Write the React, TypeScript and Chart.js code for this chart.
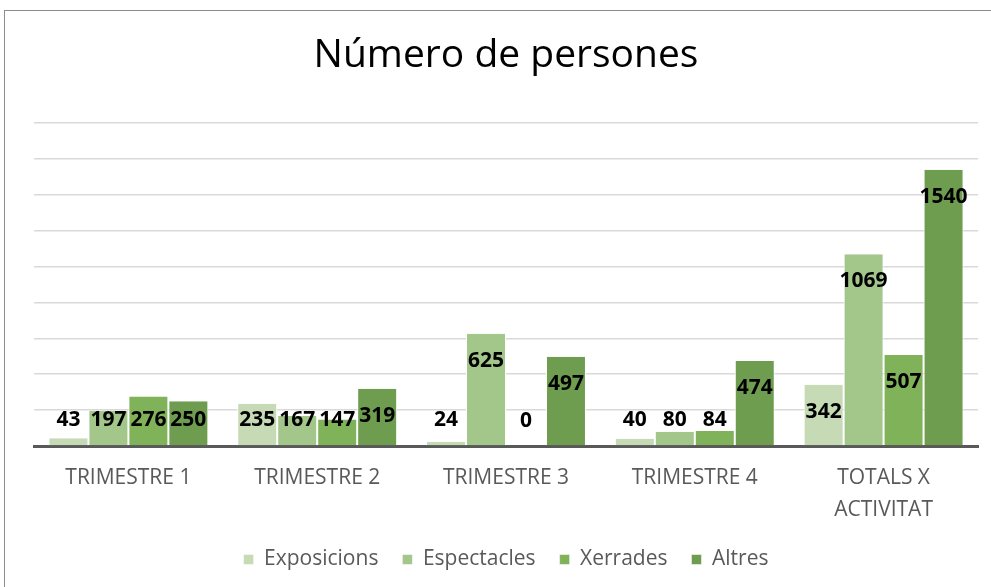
import React, { useEffect, useRef } from "react";
import { Chart, registerables } from "chart.js";

Chart.register(...registerables);

const categories: (string | string[])[] = [
  "TRIMESTRE 1",
  "TRIMESTRE 2",
  "TRIMESTRE 3",
  "TRIMESTRE 4",
  ["TOTALS X", "ACTIVITAT"],
];
const exposicions = [43, 235, 24, 40, 342];
const espectacles = [197, 167, 625, 80, 1069];
const xerrades = [276, 147, 0, 84, 507];
const altres = [250, 319, 497, 474, 1540];
const seriesNames = ["Exposicions", "Espectacles", "Xerrades", "Altres"];
const seriesColors = ["#c5dab5", "#a3c68b", "#80b25a", "#6e9d4f"];
const titleText = "Número de persones";

const labelPlugin = {
  id: "barValueLabels",
  afterDatasetsDraw(chart: any) {
    const ctx = chart.ctx;
    ctx.save();
    ctx.font = "bold 21px 'Open Sans'";
    ctx.fillStyle = "#000000";
    ctx.textAlign = "center";
    ctx.textBaseline = "middle";
    chart.data.datasets.forEach((ds: any, di: number) => {
      const meta = chart.getDatasetMeta(di);
      meta.data.forEach((el: any, i: number) => {
        const y = Math.min(el.y + 27, el.base - 25);
        ctx.fillText(String(ds.data[i]), el.x, y);
      });
    });
    ctx.restore();
  },
};

export default function App() {
  const ref = useRef<HTMLCanvasElement | null>(null);
  useEffect(() => {
    if (!ref.current) return;
    const data = [exposicions, espectacles, xerrades, altres];
    const chart = new Chart(ref.current, {
      type: "bar",
      data: {
        labels: categories,
        datasets: data.map((d, i) => ({
          label: seriesNames[i],
          data: d,
          backgroundColor: seriesColors[i],
          borderColor: "#ffffff",
          borderWidth: { left: 1, right: 1, top: 0, bottom: 0 },
          borderSkipped: false,
          categoryPercentage: 0.847,
          barPercentage: 1,
        })),
      },
      options: {
        animation: false,
        responsive: false,
        maintainAspectRatio: false,
        layout: { padding: { left: 34, right: 13, top: 0, bottom: 7 } },
        plugins: {
          title: {
            display: true,
            text: titleText,
            color: "#000000",
            font: { family: "'Open Sans'", size: 39, weight: "normal", lineHeight: 1.2 },
            padding: { top: 32, bottom: 44.2 },
          },
          legend: {
            display: true,
            position: "bottom",
            labels: {
              color: "#595959",
              font: { family: "'Open Sans'", size: 21 },
              boxWidth: 10,
              boxHeight: 10,
              padding: 24,
            },
          },
          tooltip: { enabled: false },
        },
        scales: {
          x: {
            grid: { display: false, drawTicks: false },
            border: { display: true, color: "#595959", width: 3 },
            ticks: {
              color: "#595959",
              font: { family: "'Open Sans'", size: 21, lineHeight: 1.52 },
              padding: 16,
              maxRotation: 0,
              autoSkip: false,
            },
            afterFit: (scale: any) => {
              scale.height = 79;
            },
          },
          y: {
            min: 0,
            max: 1800,
            ticks: { stepSize: 200, display: false },
            grid: { color: "#d9d9d9", lineWidth: 1.5, drawTicks: false },
            border: { display: false },
            afterFit: (scale: any) => {
              scale.width = 0;
            },
          },
        },
      },
      plugins: [labelPlugin],
    });
    return () => chart.destroy();
  }, []);

  return (
    <div style={{ position: "fixed", left: 0, top: 0, width: 991, height: 587, background: "#ffffff", overflow: "hidden" }}>
      <div
        style={{
          position: "absolute",
          left: 4,
          top: 10,
          width: 1000,
          height: 600,
          border: "1px solid #8c8c8c",
          boxSizing: "border-box",
        }}
      />
      <canvas ref={ref} width={991} height={587} style={{ position: "absolute", left: 0, top: 0 }} />
    </div>
  );
}
